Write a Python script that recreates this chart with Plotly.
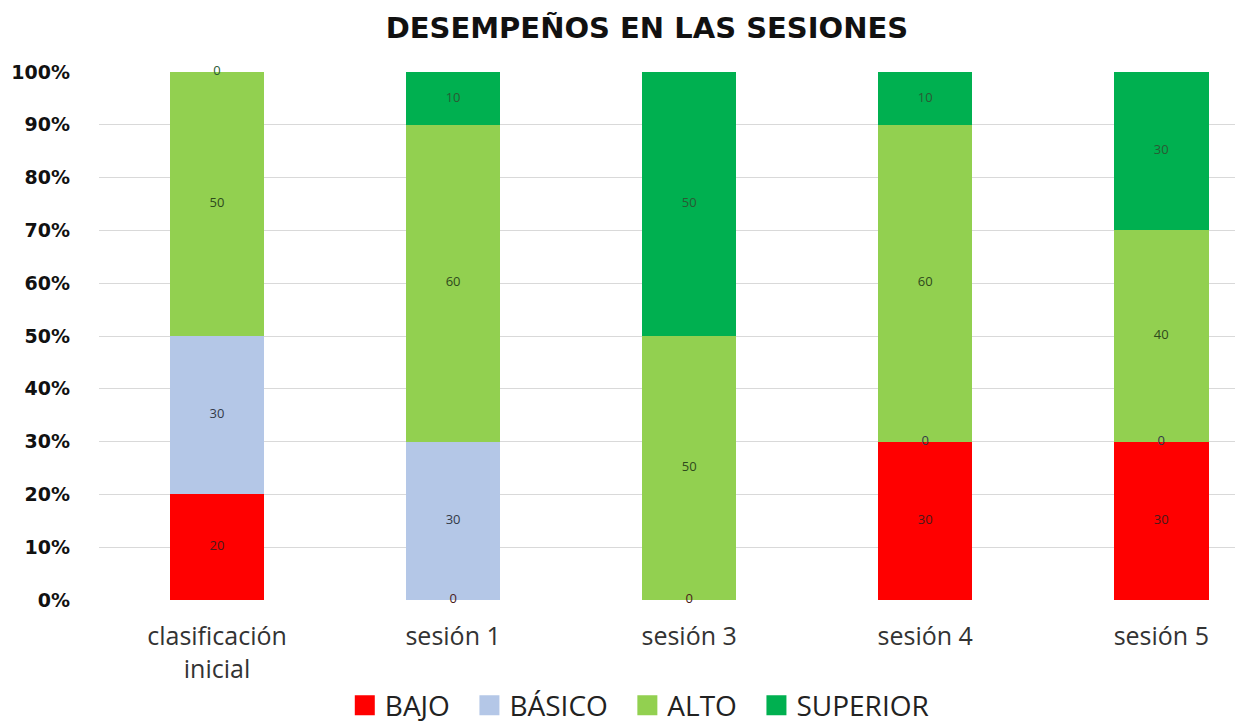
import plotly.graph_objects as go
import numpy as np

categories = ["clasificación<br>inicial", "sesión 1", "sesión 3", "sesión 4", "sesión 5"]
series_names = ["BAJO", "BÁSICO", "ALTO", "SUPERIOR"]
bajo = [20, 0, 0, 30, 30]
basico = [30, 30, None, 0, 0]
alto = [50, 60, 50, 60, 40]
superior = [0, 10, 50, 10, 30]
colors = ["#FF0000", "#B4C7E7", "#92D050", "#00B050"]
label_colors = ["#4a1a1a", "#333a48", "#2f4a1c", "#2a5a34"]
yticks = list(range(0, 101, 10))
ytick_text = [f"{v}%" for v in yticks]

series = [bajo, basico, alto, superior]
x_idx = list(range(len(categories)))

fig = go.Figure()
for name, vals, col in zip(series_names, series, colors):
    fig.add_trace(go.Bar(x=x_idx, y=vals, name=name, marker_color=col,
                         marker_line_width=0, width=0.4, showlegend=False,
                         hoverinfo="y+name"))

cum = np.zeros(len(categories))
for vals, lc in zip(series, label_colors):
    v = np.array([np.nan if a is None else a for a in vals], dtype=float)
    mid = cum + np.nan_to_num(v) / 2
    txt = ["" if np.isnan(a) else str(int(a)) for a in v]
    ys = [None if np.isnan(a) else m for a, m in zip(v, mid)]
    fig.add_trace(go.Scatter(x=x_idx, y=ys, mode="text", text=txt, cliponaxis=False,
                             textfont=dict(size=13, color=lc, family="Open Sans"),
                             showlegend=False, hoverinfo="skip"))
    cum = cum + np.nan_to_num(v)

# legend entries (square swatches)
pad = "\u00a0\u00a0"
for i, (name, col) in enumerate(zip(series_names, colors)):
    label = name + (pad if i < len(series_names) - 1 else "")
    fig.add_trace(go.Scatter(x=[None], y=[None], mode="markers", name=label,
                             marker=dict(symbol="square", size=16, color=col,
                                         line=dict(width=4, color=col))))

fig.update_layout(
    barmode="stack",
    width=1243, height=724,
    margin=dict(l=91, r=0, t=64, b=132),
    plot_bgcolor="white", paper_bgcolor="white",
    title=dict(text="DESEMPEÑOS EN LAS SESIONES", x=0.514, xref="container", xanchor="center",
               y=1 - 20 / 724, yref="container", yanchor="middle",
               font=dict(size=29, family="DejaVu Sans", color="#111111", weight="bold")),
    legend=dict(orientation="h", x=0.469, xanchor="center", y=-0.2, yanchor="middle",
                font=dict(size=28, family="Open Sans", color="#222222"),
                itemwidth=30, traceorder="normal"),
    xaxis=dict(tickmode="array", tickvals=x_idx, ticktext=categories, range=[-0.5, 4.38],
               tickfont=dict(size=25, family="Open Sans", color="#333333"),
               showgrid=False, zeroline=False, showline=False, ticks="",
               ticklabelstandoff=19),
    yaxis=dict(range=[0, 100], tickmode="array", tickvals=yticks, ticktext=ytick_text,
               tickfont=dict(size=19, family="DejaVu Sans", color="#111111", weight="bold"),
               showgrid=True, gridcolor="#D9D9D9", gridwidth=1, zeroline=False, ticks="",
               ticklabelstandoff=28),
)

fig.write_html("out.html")
